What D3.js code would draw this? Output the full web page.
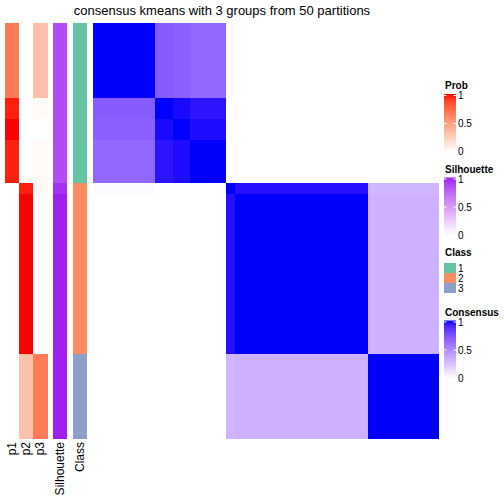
<!DOCTYPE html>
<html>
<head>
<meta charset="utf-8">
<script src="https://cdn.jsdelivr.net/npm/d3@7"></script>
<style>
  html, body { margin: 0; padding: 0; background: #ffffff; }
  svg { display: block; font-family: "Liberation Sans", Arial, Helvetica, sans-serif; }
</style>
</head>
<body>
<svg id="chart" width="504" height="504"></svg>
<script>
// ---------------- data (sample blocks, in display order) ----------------
const blockNames = ["A", "B", "C", "D", "E", "F", "G"];
const blockSizes = [7, 2, 2, 4, 1, 15, 8];
const consensusBlocks = [
  [1.00, 0.70, 0.68, 0.65, 0.02, 0.00, 0.00],
  [0.70, 1.00, 0.985, 0.962, 0.00, 0.00, 0.00],
  [0.68, 0.985, 1.00, 0.98, 0.00, 0.00, 0.00],
  [0.65, 0.962, 0.98, 1.00, 0.00, 0.00, 0.00],
  [0.02, 0.00, 0.00, 0.00, 1.00, 0.972, 0.31],
  [0.00, 0.00, 0.00, 0.00, 0.972, 1.00, 0.33],
  [0.00, 0.00, 0.00, 0.00, 0.31, 0.33, 1.00]
];
const probP1 = [0.67, 0.97, 1.00, 0.97, 0.00, 0.00, 0.00];
const probP2 = [0.00, 0.00, 0.00, 0.00, 0.97, 1.00, 0.33];
const probP3 = [0.33, 0.03, 0.00, 0.03, 0.03, 0.00, 0.67];
const silhouetteValues = [0.86, 0.86, 0.86, 0.86, 0.95, 1.00, 1.00];
const classValues = [1, 1, 1, 1, 2, 2, 3];
const classLabels = ["1", "2", "3"];
const annotationNames = ["p1", "p2", "p3", "Silhouette", "Class"];
const legendTicks = [0, 0.5, 1];
const titleText = "consensus kmeans with 3 groups from 50 partitions";

(function () {
// ---------------- expand blocks to samples ----------------
const sampleBlock = [];
blockSizes.forEach((n, b) => { for (let i = 0; i < n; i++) sampleBlock.push(b); });
const N = sampleBlock.length;
const idx = d3.range(N);

// ---------------- colour scales ----------------
const probColor = d3.scaleLinear().domain([0, 1]).range(["#ffffff", "#ff0000"]).interpolate(d3.interpolateLab);
const silColor = d3.scaleLinear().domain([0, 1]).range(["#ffffff", "#a020f0"]).interpolate(d3.interpolateLab);
const consColor = d3.scaleLinear().domain([0, 1]).range(["#ffffff", "#0000ff"]).interpolate(d3.interpolateLab);
const classColor = d3.scaleOrdinal().domain([1, 2, 3]).range(["#66c2a5", "#fc8d62", "#8da0cb"]);

// ---------------- layout ----------------
const svg = d3.select("#chart");
const bodyTop = 23, bodyBottom = 439;
const gap = 5.67;
const probX0 = 5, colW = 14.17;
const probBand = d3.scaleBand().domain(["p1", "p2", "p3"]).range([probX0, probX0 + 3 * colW]);
const silX = probX0 + 3 * colW + gap;
const classX = silX + colW + gap;
const hmX0 = classX + colW + gap, hmX1 = 439;

const yScale = d3.scaleBand().domain(idx).range([bodyTop, bodyBottom]);
const xScale = d3.scaleBand().domain(idx).range([hmX0, hmX1]);

// ---------------- title ----------------
svg.append("text")
  .attr("x", (probX0 + hmX1) / 2).attr("y", 14.5)
  .attr("text-anchor", "middle")
  .attr("font-size", 13).attr("fill", "#000")
  .text(titleText);

// ---------------- annotation columns ----------------
const probSets = { p1: probP1, p2: probP2, p3: probP3 };
const annG = svg.append("g").attr("shape-rendering", "crispEdges");
["p1", "p2", "p3"].forEach(k => {
  annG.selectAll(null).data(idx).enter().append("rect")
    .attr("x", probBand(k)).attr("width", probBand.bandwidth())
    .attr("y", d => yScale(d)).attr("height", yScale.bandwidth())
    .attr("fill", d => probColor(probSets[k][sampleBlock[d]]));
});
annG.selectAll(null).data(idx).enter().append("rect")
  .attr("x", silX).attr("width", colW)
  .attr("y", d => yScale(d)).attr("height", yScale.bandwidth())
  .attr("fill", d => silColor(silhouetteValues[sampleBlock[d]]));
annG.selectAll(null).data(idx).enter().append("rect")
  .attr("x", classX).attr("width", colW)
  .attr("y", d => yScale(d)).attr("height", yScale.bandwidth())
  .attr("fill", d => classColor(classValues[sampleBlock[d]]));

// ---------------- consensus heatmap ----------------
const cells = [];
idx.forEach(r => idx.forEach(c => cells.push({ r, c, v: consensusBlocks[sampleBlock[r]][sampleBlock[c]] })));
svg.append("g").attr("shape-rendering", "crispEdges")
  .selectAll("rect").data(cells).enter().append("rect")
  .attr("x", d => xScale(d.c)).attr("y", d => yScale(d.r))
  .attr("width", xScale.bandwidth()).attr("height", yScale.bandwidth())
  .attr("fill", d => consColor(d.v));

// ---------------- bottom labels ----------------
const labelX = [probBand("p1") + colW / 2, probBand("p2") + colW / 2, probBand("p3") + colW / 2, silX + colW / 2, classX + colW / 2];
annotationNames.forEach((name, i) => {
  svg.append("text")
    .attr("transform", `translate(${labelX[i]},${bodyBottom + 3}) rotate(-90)`)
    .attr("text-anchor", "end")
    .attr("dominant-baseline", "central")
    .attr("font-size", 12).attr("fill", "#000")
    .text(name);
});

// ---------------- legends ----------------
const legX = 444, legW = 12, barH = 58;
const defs = svg.append("defs");
function continuousLegend(id, title, T, colorScale) {
  const g = svg.append("g");
  g.append("text").attr("x", legX + 1).attr("y", T).attr("dominant-baseline", "central")
    .attr("font-size", 10).attr("font-weight", "bold").text(title);
  const barTop = T + 8.5;
  const grad = defs.append("linearGradient").attr("id", id)
    .attr("x1", 0).attr("y1", 1).attr("x2", 0).attr("y2", 0);
  d3.range(0, 1.0001, 0.1).forEach(t => grad.append("stop").attr("offset", t).attr("stop-color", colorScale(t)));
  g.append("rect").attr("x", legX).attr("y", barTop).attr("width", legW).attr("height", barH)
    .attr("fill", `url(#${id})`);
  const ls = d3.scaleLinear().domain([0, 1]).range([barTop + barH - 0.5, barTop + 1.5]);
  legendTicks.forEach(t => {
    g.append("line").attr("x1", legX).attr("x2", legX + 2.5).attr("y1", ls(t)).attr("y2", ls(t))
      .attr("stroke", "#fff").attr("stroke-width", 1);
    g.append("line").attr("x1", legX + legW - 2.5).attr("x2", legX + legW).attr("y1", ls(t)).attr("y2", ls(t))
      .attr("stroke", "#fff").attr("stroke-width", 1);
    g.append("text").attr("x", legX + legW + 2).attr("y", ls(t)).attr("dominant-baseline", "central")
      .attr("font-size", 10).text(d3.format("~g")(t));
  });
}
continuousLegend("gProb", "Prob", 85.5, probColor);
continuousLegend("gSil", "Silhouette", 169, silColor);

// class legend
const classT = 252;
svg.append("text").attr("x", legX + 1).attr("y", classT).attr("dominant-baseline", "central")
  .attr("font-size", 10).attr("font-weight", "bold").text("Class");
const classBand = d3.scaleBand().domain(classLabels).range([classT + 11, classT + 41]);
classLabels.forEach((lab, i) => {
  svg.append("rect").attr("x", legX).attr("y", classBand(lab)).attr("width", legW).attr("height", classBand.bandwidth())
    .attr("fill", classColor(i + 1));
  svg.append("text").attr("x", legX + legW + 2).attr("y", classBand(lab) + classBand.bandwidth() / 2)
    .attr("dominant-baseline", "central").attr("font-size", 10).text(lab);
});

continuousLegend("gCons", "Consensus", 312, consColor);
})();
</script>
</body>
</html>
